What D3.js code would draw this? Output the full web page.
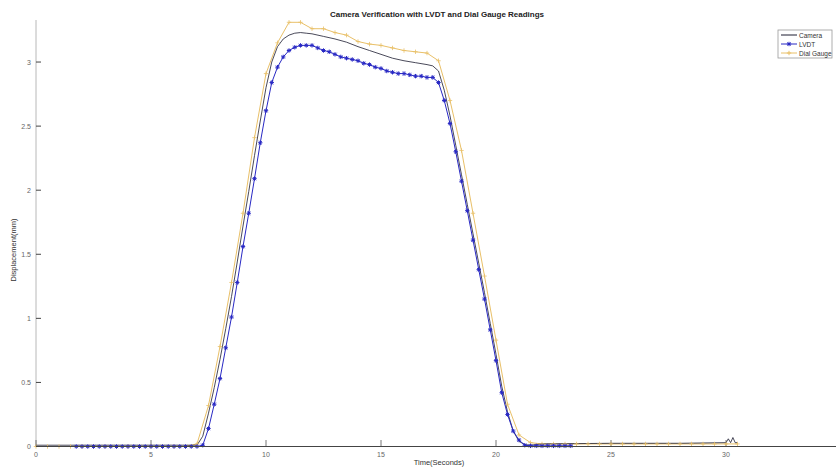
<!DOCTYPE html>
<html>
<head>
<meta charset="utf-8">
<script src="https://cdn.jsdelivr.net/npm/d3@7"></script>
<style>
  body { margin: 0; background: #fff; }
  svg { font-family: "Liberation Sans", Arial, sans-serif; }
</style>
</head>
<body>
<svg width="836" height="468"></svg>
<script>
var width = 836, height = 468;

// LVDT: sampled every 0.25 s starting at 1.75 s
var lvdtStart = 1.75, lvdtStep = 0.25;
var lvdtValues = [
  0,0,0,0,0,0,0,0,0,0,0,0,0,0,0,0,0,0,0,0,0,0,
  0.01,0.14,0.33,0.53,0.77,1.01,1.28,1.56,1.82,2.09,2.37,2.62,2.84,2.96,3.04,3.09,
  3.115,3.13,3.13,3.13,3.11,3.09,3.08,3.06,3.04,3.03,3.02,3.01,2.99,2.98,2.96,2.95,
  2.93,2.92,2.91,2.91,2.90,2.89,2.89,2.88,2.88,2.84,2.70,2.52,2.30,2.07,1.84,1.61,
  1.38,1.15,0.91,0.67,0.42,0.25,0.12,0.05,0.01,
  0.005,0.005,0.005,0.005,0.005,0.005,0.005,0.005
];

// Dial gauge: sampled every 0.5 s starting at 0 s
var dialStart = 0, dialStep = 0.5;
var dialValues = [
  0,0,0,0,0,0,0,0,0,0,0,0,0,0,
  0.02,0.32,0.78,1.28,1.82,2.41,2.91,3.15,3.31,3.31,3.26,3.26,3.23,3.21,3.16,3.14,
  3.13,3.11,3.09,3.08,3.07,3.01,2.70,2.31,1.82,1.33,0.83,0.33,0.09,0.03,
  0.02,0.02,0.02,0.02,0.02,0.02,0.02,0.02,0.02,0.02,0.02,0.02,0.02,0.02,0.02,0.02,0.02,0.02
];

// Camera: continuous line
var cameraTime = [0,3,7.0,7.25,7.5,7.75,8.0,8.25,8.5,8.75,9.0,9.25,9.5,9.75,10.0,10.25,10.5,10.75,
  11.0,11.25,11.5,11.75,12.0,12.5,13.0,13.5,14.0,14.5,15.0,15.5,16.0,16.5,17.0,17.25,17.5,17.75,
  18.0,18.25,18.5,18.75,19.0,19.25,19.5,19.75,20.0,20.25,20.5,20.75,21.0,21.25,21.5,22,25,28,
  30,30.1,30.2,30.3,30.4,30.5];
var cameraValues = [0.01,0.01,0.01,0.08,0.26,0.46,0.68,0.92,1.17,1.44,1.72,1.99,2.27,2.54,2.80,3.0,3.12,3.18,
  3.21,3.225,3.23,3.225,3.22,3.2,3.18,3.155,3.12,3.09,3.06,3.03,3.01,2.995,2.98,2.97,2.93,2.78,
  2.58,2.35,2.12,1.89,1.66,1.43,1.2,0.96,0.72,0.47,0.27,0.12,0.04,0.015,0.01,0.02,0.025,0.025,
  0.03,0.06,0.03,0.07,0.03,0.03];

var xTicks = [0, 5, 10, 15, 20, 25, 30];
var yTicks = [0, 0.5, 1, 1.5, 2, 2.5, 3];

var seriesNames = ['Camera', 'LVDT', 'Dial Gauge'];
var colors = ['#1c1c30', '#2828c4', '#e9c068'];

var lvdt = lvdtValues.map(function(v, i) { return {t: lvdtStart + i * lvdtStep, v: v}; });
var dial = dialValues.map(function(v, i) { return {t: dialStart + i * dialStep, v: v}; });
var camera = cameraValues.map(function(v, i) { return {t: cameraTime[i], v: v}; });

var svg = d3.select('svg');

var x = d3.scaleLinear().domain([0, 35]).range([36, 841]);
var y = d3.scaleLinear().domain([0, 3.328]).range([446.5, 20]);

var line = d3.line()
  .x(function(d) { return x(d.t); })
  .y(function(d) { return y(d.v); });

// axes
svg.append('line')
  .attr('x1', 36).attr('x2', 36).attr('y1', 20).attr('y2', 446.5)
  .attr('stroke', '#b8b8b8').attr('stroke-width', 1);

svg.selectAll('.ytick').data(yTicks).enter().append('line')
  .attr('x1', 36).attr('x2', 41)
  .attr('y1', function(d) { return y(d); }).attr('y2', function(d) { return y(d); })
  .attr('stroke', '#444');

svg.selectAll('.ylab').data(yTicks).enter().append('text')
  .attr('x', 31).attr('y', function(d) { return y(d) + 2.5; })
  .attr('text-anchor', 'end')
  .attr('font-size', 7).attr('fill', '#666')
  .text(function(d) { return d; });

svg.selectAll('.xtick').data(xTicks).enter().append('line')
  .attr('x1', function(d) { return x(d); }).attr('x2', function(d) { return x(d); })
  .attr('y1', 446.5).attr('y2', 440)
  .attr('stroke', '#777');

svg.selectAll('.xlab').data(xTicks).enter().append('text')
  .attr('x', function(d) { return x(d); }).attr('y', 457)
  .attr('text-anchor', 'middle')
  .attr('font-size', 7).attr('fill', '#666')
  .text(function(d) { return d; });

svg.append('text')
  .attr('x', 439).attr('y', 465)
  .attr('text-anchor', 'middle')
  .attr('font-size', 7.5).attr('fill', '#333')
  .text('Time(Seconds)');

svg.append('text')
  .attr('transform', 'translate(16,250) rotate(-90)')
  .attr('text-anchor', 'middle')
  .attr('font-size', 7.5).attr('fill', '#333')
  .text('Displacement(mm)');

svg.append('text')
  .attr('x', 437).attr('y', 17)
  .attr('text-anchor', 'middle')
  .attr('font-size', 8).attr('font-weight', 'bold').attr('fill', '#222')
  .text('Camera Verification with LVDT and Dial Gauge Readings');

// series
var plot = svg.append('g');

plot.append('path').datum(dial)
  .attr('d', line).attr('fill', 'none')
  .attr('stroke', colors[2]).attr('stroke-width', 1);

plot.append('path').datum(camera)
  .attr('d', line).attr('fill', 'none')
  .attr('stroke', colors[0]).attr('stroke-width', 0.8);

plot.append('path').datum(lvdt)
  .attr('d', line).attr('fill', 'none')
  .attr('stroke', colors[1]).attr('stroke-width', 1);

var plusPath = 'M-2.2,0H2.2M0,-2.2V2.2';
var starPath = 'M-2.2,0H2.2M0,-2.2V2.2M-1.6,-1.6L1.6,1.6M-1.6,1.6L1.6,-1.6';

plot.selectAll('.dialpt').data(dial).enter().append('path')
  .attr('transform', function(d) { return 'translate(' + x(d.t) + ',' + y(d.v) + ')'; })
  .attr('d', plusPath)
  .attr('stroke', colors[2]).attr('stroke-width', 0.8).attr('fill', 'none');

plot.selectAll('.lvdtpt').data(lvdt).enter().append('path')
  .attr('transform', function(d) { return 'translate(' + x(d.t) + ',' + y(d.v) + ')'; })
  .attr('d', starPath)
  .attr('stroke', colors[1]).attr('stroke-width', 1).attr('fill', 'none');

// x axis line on top of the flat parts
svg.append('line')
  .attr('x1', 36).attr('x2', 836).attr('y1', 446.5).attr('y2', 446.5)
  .attr('stroke', '#444').attr('stroke-width', 1);

// legend
var legend = svg.append('g').attr('transform', 'translate(778,30)');
legend.append('rect')
  .attr('width', 54).attr('height', 28)
  .attr('fill', '#fff').attr('stroke', '#999').attr('stroke-width', 0.8);

var items = legend.selectAll('.item').data(seriesNames).enter().append('g')
  .attr('transform', function(d, i) { return 'translate(0,' + (5 + i * 9) + ')'; });

items.append('line')
  .attr('x1', 3).attr('x2', 19)
  .attr('stroke', function(d, i) { return colors[i]; })
  .attr('stroke-width', 1);

items.filter(function(d, i) { return i === 1; }).append('path')
  .attr('transform', 'translate(11,0)')
  .attr('d', starPath).attr('stroke', colors[1]).attr('fill', 'none');

items.filter(function(d, i) { return i === 2; }).append('path')
  .attr('transform', 'translate(11,0)')
  .attr('d', plusPath).attr('stroke', colors[2]).attr('fill', 'none');

items.append('text')
  .attr('x', 21).attr('y', 2.5)
  .attr('font-size', 6.5).attr('fill', '#333')
  .text(function(d) { return d; });
</script>
</body>
</html>
